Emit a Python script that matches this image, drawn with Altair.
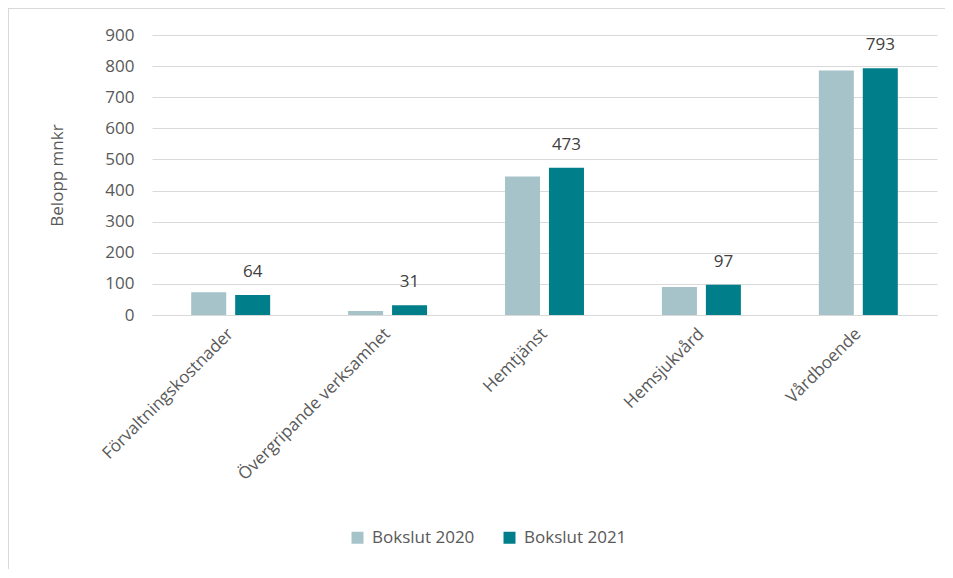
import altair as alt
import pandas as pd

categories = ["Förvaltningskostnader", "Övergripande verksamhet", "Hemtjänst", "Hemsjukvård", "Vårdboende"]
series = ["Bokslut 2020", "Bokslut 2021"]
values_2020 = [73, 13, 445, 90, 786]
values_2021 = [64, 31, 473, 97, 793]
colors = ["#A5C3C8", "#007E8A"]

rows = []
for c, v in zip(categories, values_2020):
    rows.append({"kategori": c, "serie": series[0], "belopp": v})
for c, v in zip(categories, values_2021):
    rows.append({"kategori": c, "serie": series[1], "belopp": v})
df = pd.DataFrame(rows)

FONT = "Open Sans"
FS = 17

x = alt.X("kategori:N", sort=categories, title=None,
          scale=alt.Scale(paddingInner=0.497, paddingOuter=0.25),
          axis=alt.Axis(labelAngle=-45, labelAlign="right", labelBaseline="middle",
                        labelFontSize=FS, labelColor="#595959", labelPadding=16,
                        ticks=False, domainColor="#D9D9D9", labelFont=FONT,
                        labelLimit=400))
y = alt.Y("belopp:Q", title="Belopp mnkr",
          scale=alt.Scale(domain=[0, 900]),
          axis=alt.Axis(values=list(range(0, 901, 100)), labelFontSize=FS, labelColor="#595959",
                        labelFont=FONT, titleFont=FONT, titleFontSize=FS, titleFontWeight="normal",
                        titleColor="#595959", titlePadding=38, ticks=False, domain=False,
                        gridColor="#D9D9D9", labelPadding=18, labelOverlap=False,
                        labelFlush=False))
xoff = alt.XOffset("serie:N", sort=series, scale=alt.Scale(paddingInner=0.2045, paddingOuter=0))

bars = alt.Chart(df).mark_bar(size=35).encode(
    x=x,
    y=y,
    xOffset=xoff,
    color=alt.Color("serie:N", sort=series,
                    scale=alt.Scale(domain=series, range=colors),
                    legend=alt.Legend(title=None, orient="none", direction="horizontal",
                                      legendX=197, legendY=494, symbolType="square",
                                      symbolSize=144, symbolStrokeWidth=0,
                                      labelFontSize=FS, labelColor="#595959", labelFont=FONT,
                                      columnPadding=26, labelOffset=6)),
)

labels = alt.Chart(df).transform_filter(alt.datum.serie == series[1]).mark_text(
    dy=-18, fontSize=FS, color="#404040", font=FONT, baseline="alphabetic"
).encode(
    x=x,
    xOffset=xoff,
    y=y,
    text="belopp:Q",
)

border_left = alt.Chart(df).mark_rule(color="#D9D9D9").encode(
    x=alt.value(-143.5), y=alt.value(-26.5), y2=alt.value(535)
)
border_top = alt.Chart(df).mark_rule(color="#D9D9D9").encode(
    y=alt.value(-26.5), x=alt.value(-143.5), x2=alt.value(793)
)

chart = alt.layer(bars, labels, border_left, border_top).properties(
    width=785, height=280,
    autosize=alt.AutoSizeParams(type="none"),
    padding={"left": 144, "top": 27, "right": 8, "bottom": 254},
).configure_view(stroke=None)

chart.save("out.html", embed_options={"renderer": "svg", "actions": False})
